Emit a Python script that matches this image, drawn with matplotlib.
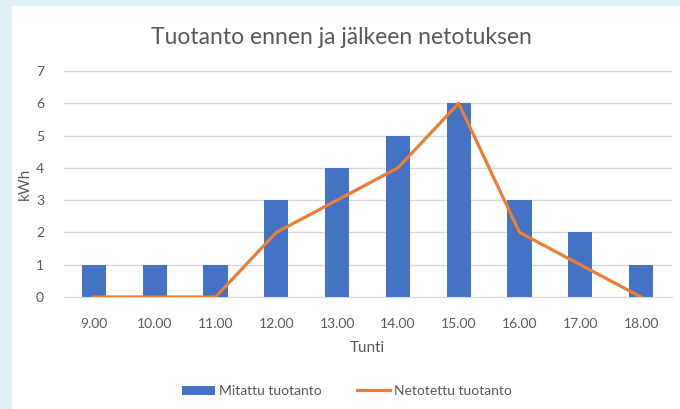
import matplotlib.pyplot as plt
import matplotlib.patches as mpatches
import numpy as np

hours = ["9.00", "10.00", "11.00", "12.00", "13.00", "14.00", "15.00", "16.00", "17.00", "18.00"]
measured = [1, 1, 1, 3, 4, 5, 6, 3, 2, 1]
netted = [0, 0, 0, 2, 3, 4, 6, 2, 1, 0]

BLUE = "#4472C4"
ORANGE = "#ED7D31"
TXT = "#595959"
GRID = "#d9d9d9"
BORDER = "#dff0f5"

plt.rcParams["font.family"] = ["Lato", "DejaVu Sans"]

fig = plt.figure(figsize=(6.8, 4.09), dpi=100)
fig.patch.set_facecolor(BORDER)
# white chart area
fig.patches.append(mpatches.Rectangle((12 / 680, 0), 1, 1 - 6 / 409, transform=fig.transFigure,
                                      facecolor="white", edgecolor="none", zorder=-5))

ax = fig.add_axes([63.5 / 680, 1 - 297 / 409, (671.5 - 63.5) / 680, (297 - 71) / 409])
ax.set_zorder(2)
ax.set_facecolor("white")
x = np.arange(len(hours))
ax.bar(x, measured, width=0.4, color=BLUE, zorder=2, label="Mitattu tuotanto")
ax.plot(x, netted, color=ORANGE, linewidth=2.3, zorder=3, label="Netotettu tuotanto",
        solid_joinstyle="round")

ax.set_xlim(-0.5, len(hours) - 0.5)
ax.set_ylim(0, 7)
ax.set_yticks(range(0, 8))
ax.set_xticks(x)
ax.set_xticklabels(hours)
ax.grid(axis="y", color=GRID, linewidth=1, zorder=0)
for s in ["top", "right", "left"]:
    ax.spines[s].set_visible(False)
ax.spines["bottom"].set_color(GRID)
ax.tick_params(axis="both", length=0, colors=TXT, labelsize=10)
ax.tick_params(axis="x", pad=15)
ax.tick_params(axis="y", pad=14)
ax.set_xlabel("Tunti", color=TXT, fontsize=11, labelpad=8)
ax.set_ylabel("kWh", color=TXT, fontsize=11, labelpad=3)

fig.text(0.502, 1 - 37 / 409, "Tuotanto ennen ja jälkeen netotuksen", ha="center", va="center",
         fontsize=16.5, color=TXT)

handles, labels = ax.get_legend_handles_labels()
fig.legend(handles[::-1], labels[::-1], loc="center", bbox_to_anchor=(0.51, 1 - 391 / 409),
           ncol=2, frameon=False, fontsize=10, labelcolor=TXT, handlelength=2.4,
           handleheight=0.6, columnspacing=2.5, handletextpad=0.3)

fig.savefig("out.png", dpi=100, facecolor=fig.get_facecolor())
